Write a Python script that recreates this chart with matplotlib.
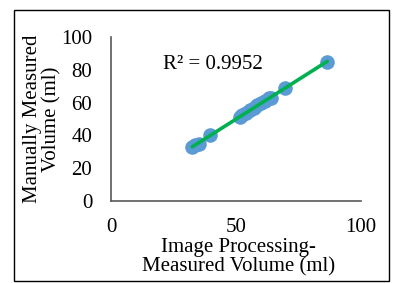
import numpy as np
import matplotlib
matplotlib.use("Agg")
import matplotlib.pyplot as plt
from matplotlib.patches import Rectangle

plt.rcParams['font.family'] = ['Liberation Serif', 'DejaVu Serif']

x_vals = [32.5, 33.5, 35.0, 39.5, 51.5, 52.5, 54.0, 55.5, 57.0, 58.5, 60.0, 61.5, 63.0, 64.0, 69.5, 86.5]
y_vals = [33.0, 34.0, 34.5, 40.0, 51.5, 52.5, 53.5, 55.5, 57.0, 58.5, 60.0, 61.0, 62.5, 63.0, 69.0, 84.5]
r2_text = "R² = 0.9952"
x_ticks = [0, 50, 100]
y_ticks = [0, 20, 40, 60, 80, 100]

fig = plt.figure(figsize=(3.96, 2.83), dpi=100)
ax = fig.add_axes([111/396, 1-201/283, 250/396, 164/283])

ax.scatter(x_vals, y_vals, s=110, color='#5B9BD5', zorder=2, linewidths=0)
coef = np.polyfit(x_vals, y_vals, 1)
xl = np.array([min(x_vals), max(x_vals)])
ax.plot(xl, np.polyval(coef, xl), color='#00B050', lw=2.6, zorder=3, solid_capstyle='round')

ax.set_xlim(0, 100)
ax.set_ylim(0, 100)
ax.set_xticks(x_ticks)
ax.set_yticks(y_ticks)
ax.tick_params(length=0, labelsize=15)
ax.tick_params(axis='x', pad=12.5)
ax.tick_params(axis='y', pad=13.5)
for s in ['top', 'right']:
    ax.spines[s].set_visible(False)
for s in ['left', 'bottom']:
    ax.spines[s].set_color('#595959')
    ax.spines[s].set_linewidth(1.2)

ax.text(40.8, 83.5, r2_text, fontsize=15, ha='center', va='center')

ax.set_xlabel("Image Processing-\nMeasured Volume (ml)", fontsize=15, linespacing=1.0,
              va='center', ha='center')
ax.xaxis.set_label_coords(0.51, -0.345)
ax.set_ylabel("Manually Measured\nVolume (ml)", fontsize=15, linespacing=1.05,
              va='center', ha='center')
ax.yaxis.set_label_coords(-0.276, 0.5)

fig.patches.append(Rectangle((14/396, 1-281/283), 375/396, 271/283, transform=fig.transFigure,
                             fill=False, edgecolor='black', linewidth=1))

fig.savefig("out.png", dpi=100)
